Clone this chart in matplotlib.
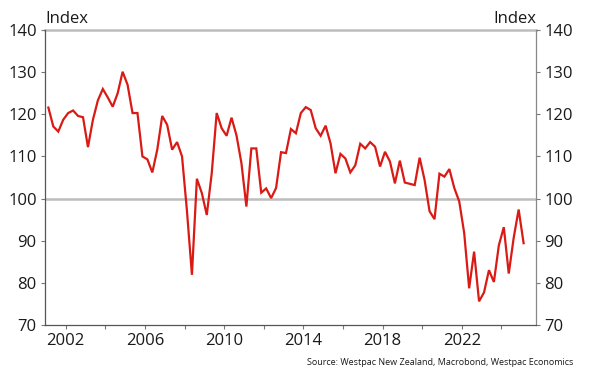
import matplotlib
matplotlib.use("Agg")
import matplotlib.pyplot as plt
import numpy as np
from matplotlib.ticker import FixedLocator, NullFormatter

plt.rcParams['font.family'] = ['Open Sans', 'DejaVu Sans']

start_year = 2001.125
values = [
    121.6, 117.1, 115.9, 118.7, 120.3, 120.9, 119.6, 119.3, 112.2, 118.7,
    123.3, 126.0, 124.0, 121.8, 125.0, 130.1, 127.0, 120.3, 120.3, 110.0,
    109.3, 106.2, 111.6, 119.6, 117.5, 111.6, 113.4, 110.0, 97.0, 81.9,
    104.7, 101.3, 96.1, 106.0, 120.3, 116.7, 114.9, 119.2, 115.0,
    108.4, 98.1, 111.9, 111.9, 101.4, 102.4, 100.1, 102.5, 111.0, 110.8,
    116.5, 115.5, 120.3, 121.7, 121.0, 116.7, 114.9, 117.3, 113.1, 106.0,
    110.6, 109.5, 106.2, 107.9, 113.0, 111.9, 113.4, 112.3, 107.6, 111.1,
    108.8, 103.6, 109.0, 103.8, 103.5, 103.2, 109.7, 104.4, 97.0,
    95.1, 105.9, 105.2, 107.0, 102.5, 99.3, 91.8, 78.7, 87.4, 75.6,
    77.7, 83.0, 80.2, 88.9, 93.2, 82.2, 90.7, 97.4, 89.4,
]
dates = start_year + 0.25 * np.arange(len(values))

y_ticks = [70, 80, 90, 100, 110, 120, 130, 140]
x_major = [2002, 2006, 2010, 2014, 2018, 2022]
x_minor = [2004, 2008, 2012, 2016, 2020, 2024]

red = '#DA1A14'
dark = '#555555'
grey = '#BDBDBD'
txt = '#1a1a1a'

fig = plt.figure(figsize=(6.0, 3.85), dpi=100)
ax = fig.add_axes([0.075, 0.156, 0.8183, 0.766])

ax.axhline(100, color=grey, lw=1.8, zorder=1)
ax.axhline(140, color=grey, lw=1.8, zorder=1, clip_on=False)
ax.plot(dates, values, color=red, lw=1.6, zorder=3, solid_joinstyle='miter')

ax.set_xlim(2000.955, 2025.75)
ax.set_ylim(70, 140)

ax.spines['top'].set_visible(False)
ax.spines['left'].set_color(dark)
ax.spines['bottom'].set_color(dark)
ax.spines['right'].set_color('#888888')
for s in ['left', 'bottom', 'right']:
    ax.spines[s].set_linewidth(0.9)

ax.set_yticks(y_ticks)
ax.tick_params(axis='y', which='both', left=True, right=True, labelleft=True,
               labelright=True, direction='out', length=3, width=0.8,
               color='#777777', labelsize=12, labelcolor=txt, pad=3)
ax.xaxis.set_major_locator(FixedLocator(x_major))
ax.xaxis.set_minor_locator(FixedLocator(x_minor))
ax.xaxis.set_minor_formatter(NullFormatter())
ax.set_xticklabels([str(x) for x in x_major])
ax.tick_params(axis='x', which='both', direction='out', length=3, width=0.8,
               color='#777777', labelsize=12, labelcolor=txt, pad=3)

fig.text(0.076, 0.94, 'Index', ha='left', va='baseline', fontsize=12, color=txt)
fig.text(0.8933, 0.94, 'Index', ha='right', va='baseline', fontsize=12, color=txt)
fig.text(0.955, 0.052, 'Source: Westpac New Zealand, Macrobond, Westpac Economics',
         ha='right', va='baseline', fontsize=6.5, color=txt)

fig.savefig('out.png', dpi=100)
